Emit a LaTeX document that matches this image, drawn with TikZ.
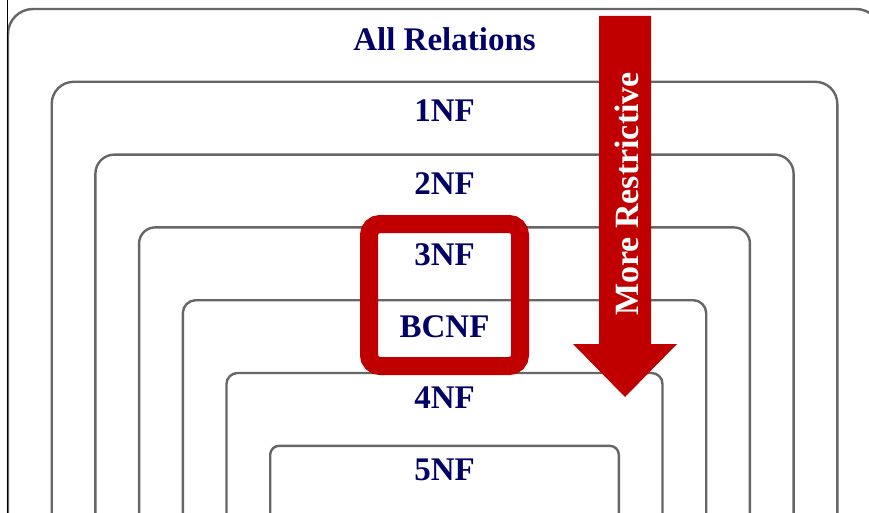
\documentclass[tikz,border=0pt]{standalone}
\usepackage{fontspec}
\setmainfont{Liberation Serif}
\definecolor{navy}{HTML}{000066}
\definecolor{dred}{HTML}{C00000}
\definecolor{lgrey}{HTML}{666666}
\begin{document}
\begin{tikzpicture}[x=1pt,y=-1pt,
  frame/.style={draw=lgrey, line width=2.4pt},
  lbl/.style={text=navy, font=\fontsize{33}{39}\selectfont\bfseries, anchor=base, inner sep=0pt}]
\useasboundingbox (0,0) rectangle (869,513);
\begin{scope}
\clip (0,0) rectangle (869,513);
\foreach \i/\r in {0/25,1/22,2/19,3/16,4/13,5/11,6/9} {
  \pgfmathsetmacro\l{8+43.7*\i}
  \pgfmathsetmacro\rr{881-43.7*\i}
  \pgfmathsetmacro\t{9+72.8*\i}
  \draw[frame, rounded corners=\r pt] (\l,530) -- (\l,\t) -- (\rr,\t) -- (\rr,530);
}
\end{scope}
\draw[black, line width=1pt] (7,0) -- (7,513);
\node[lbl] (all) at (444.5,51) {All Relations};
\node[lbl] (n1) at (444.5,122) {1NF};
\node[lbl] (n2) at (444.5,194) {2NF};
\node[lbl] (n3) at (444.5,265) {3NF};
\node[lbl] (bc) at (444.5,337) {BCNF};
\node[lbl] (n4) at (444.5,408) {4NF};
\node[lbl] (n5) at (444.5,480) {5NF};
\node[draw=dred, line width=18pt, rounded corners=11pt, minimum width=151pt, minimum height=142pt, inner sep=0pt] (hl) at (444.5,295) {};
\fill[dred] (599,16) -- (651,16) -- (651,344) -- (677,344) -- (625,397) -- (573,344) -- (599,344) -- cycle;
\node[rotate=90, text=white, font=\fontsize{34}{40}\selectfont\bfseries, inner sep=0pt] (mr) at (627,194) {More Restrictive};
\end{tikzpicture}
\end{document}
